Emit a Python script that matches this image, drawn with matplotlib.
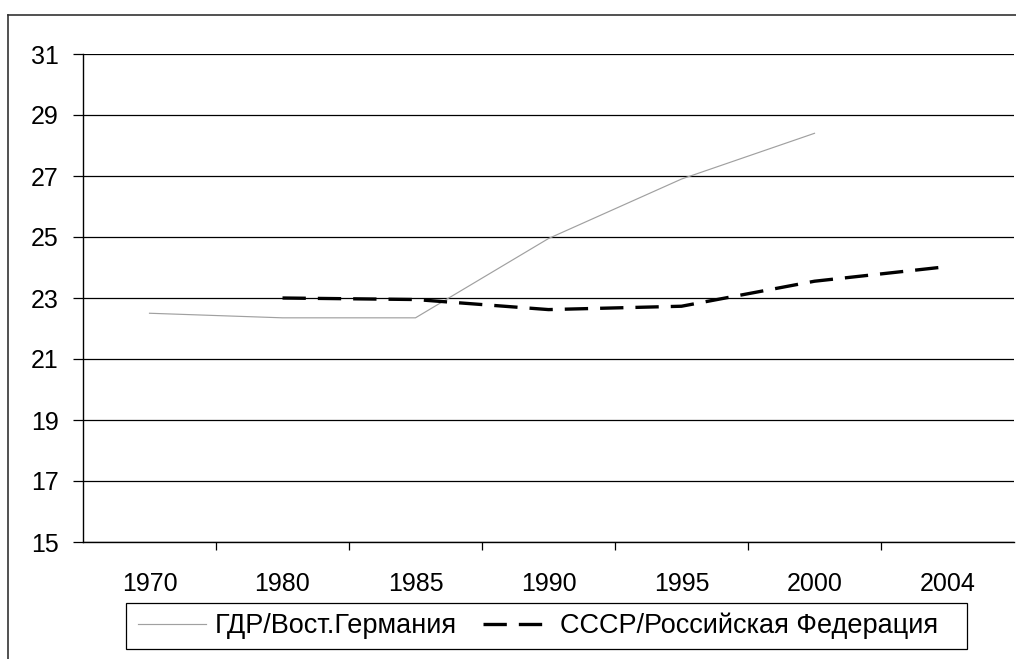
import matplotlib
matplotlib.use("Agg")
import matplotlib.pyplot as plt
from matplotlib.lines import Line2D
from matplotlib.patches import Rectangle

categories = ["1970", "1980", "1985", "1990", "1995", "2000", "2004"]
gdr = [22.5, 22.35, 22.35, 24.95, 26.9, 28.4, None]
ussr = [None, 23.0, 22.95, 22.62, 22.73, 23.55, 24.03]
yticks = [15, 17, 19, 21, 23, 25, 27, 29, 31]
label_gdr = "ГДР/Вост.Германия"
label_ussr = "СССР/Российская Федерация"

plt.rcParams['font.family'] = ['Liberation Sans', 'DejaVu Sans']

W, H = 1016, 659
fig = plt.figure(figsize=(W / 100, H / 100), dpi=100)
ax = fig.add_axes([83 / W, 1 - 542 / H, (1014 - 83) / W, (542 - 54) / H])

x = list(range(len(categories)))
gx = [i for i, v in zip(x, gdr) if v is not None]
gy = [v for v in gdr if v is not None]
ux = [i for i, v in zip(x, ussr) if v is not None]
uy = [v for v in ussr if v is not None]

GRAY = "#a0a0a0"
DASH = (7.0, 3.6)
ax.plot(gx, gy, color=GRAY, lw=0.85, zorder=3)
ax.plot(ux, uy, color="black", lw=2.4, dashes=DASH, zorder=4)

ax.set_xlim(-0.5, len(categories) - 0.5)
ax.set_ylim(15, 31)
ax.set_yticks(yticks)
ax.set_yticklabels([str(t) for t in yticks], fontsize=18)
for t in yticks:
    ax.axhline(t, color="black", lw=0.9, zorder=1)

ax.set_xticks(x)
ax.set_xticklabels(categories, fontsize=18)
ax.set_xticks([i + 0.5 for i in x[:-1]], minor=True)
ax.tick_params(axis="x", which="major", length=0, pad=21.5)
ax.tick_params(axis="x", which="minor", length=5.5, width=0.9, direction="out", color="black")
ax.tick_params(axis="y", length=7, width=0.9, direction="out", pad=10.5)

for s in ["top", "right"]:
    ax.spines[s].set_visible(False)
ax.spines["left"].set_linewidth(1.0)
ax.spines["bottom"].set_linewidth(1.0)

handles = [Line2D([], [], color=GRAY, lw=0.85),
           Line2D([], [], color="black", lw=2.4, dashes=DASH)]
leg = fig.legend(handles, [label_gdr, label_ussr], ncol=2,
                 loc="center", bbox_to_anchor=(538 / W, 1 - 626 / H),
                 fontsize=19.5, frameon=False,
                 handlelength=2.5, handletextpad=0.33,
                 columnspacing=0.96, borderpad=0.0, borderaxespad=0)

# legend box
fig.add_artist(Rectangle((126 / W, 1 - 649 / H), (967 - 126) / W, (649 - 603) / H,
                         transform=fig.transFigure, fill=False,
                         edgecolor="black", lw=0.9))

# outer chart border (left and top visible)
fig.add_artist(Line2D([8 / W, 8 / W], [0, 1 - 15 / H], color="#333333", lw=1.2, transform=fig.transFigure))
fig.add_artist(Line2D([8 / W, 1], [1 - 15 / H, 1 - 15 / H], color="#333333", lw=1.2, transform=fig.transFigure))

fig.savefig("out.png", dpi=100)
